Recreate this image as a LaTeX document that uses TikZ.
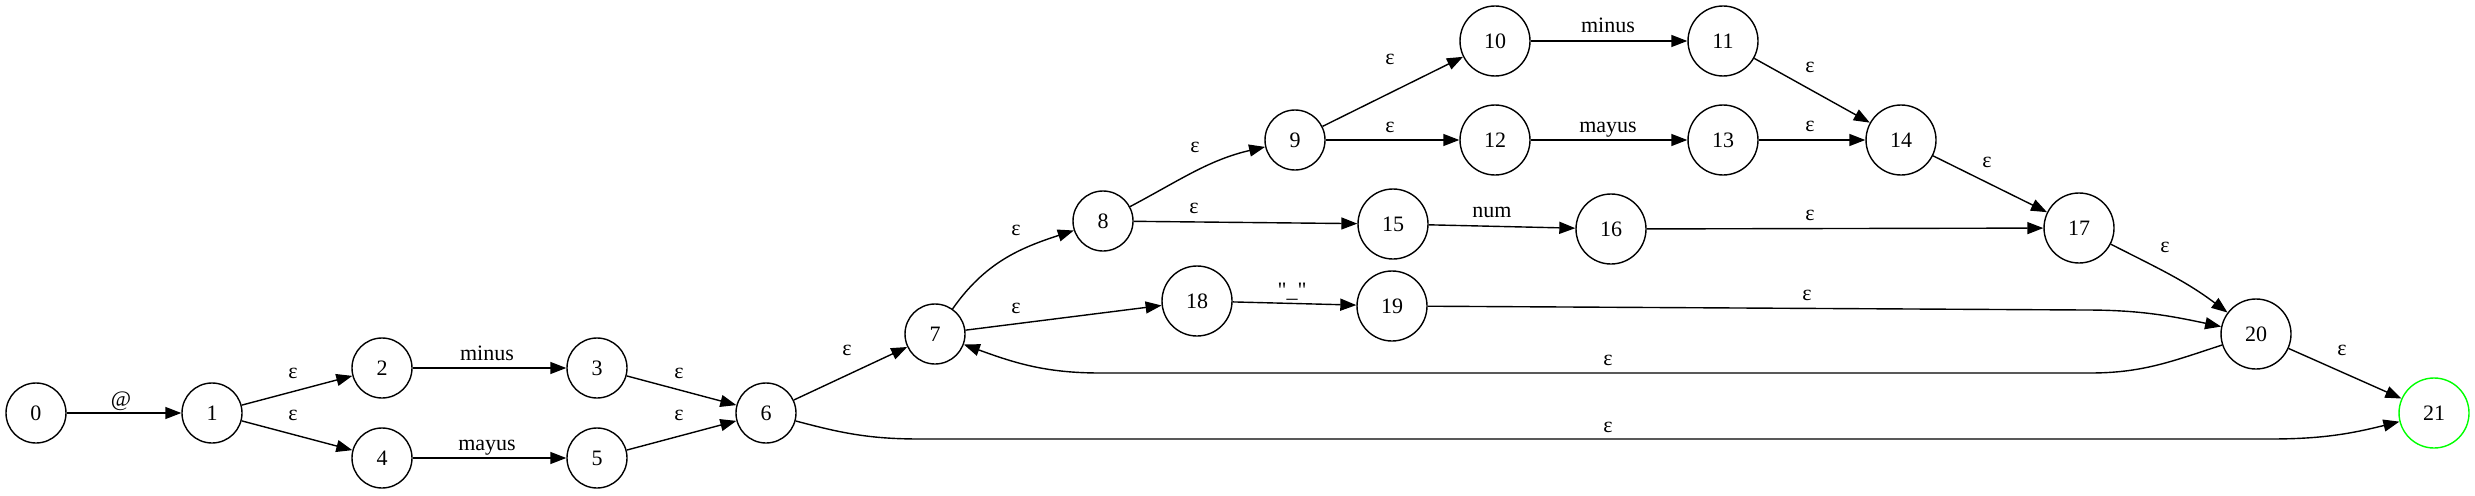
\documentclass[tikz,border=0pt]{standalone}
\usepackage{fontspec}
\setmainfont{Liberation Serif}[Ligatures=TeXOff]
\usetikzlibrary{arrows.meta, positioning}

\begin{document}
\begin{tikzpicture}[x=1pt, y=1pt, font=\fontsize{22}{26}\selectfont,
		st/.style={circle, draw, line width=1.4pt, minimum size=60pt, inner sep=0pt},
		dd/.style={st, minimum size=70pt},
		tr/.style={line width=1.4pt, -{Triangle[length=16pt, width=12pt]}},
		lb/.style={anchor=base, inner sep=0pt}]
	\useasboundingbox (0,0) rectangle (2475,-495);
	% states
	\node[st] (q0) at (36,-413) {0};
	\node[st] (q1) at (212,-413) {1};
	\node[st] (q2) at (382,-368) {2};
	\node[st] (q3) at (597,-368) {3};
	\node[st] (q4) at (382,-458) {4};
	\node[st] (q5) at (597,-458) {5};
	\node[st] (q6) at (766,-413) {6};
	\node[st] (q7) at (935,-334) {7};
	\node[st] (q8) at (1103,-221) {8};
	\node[st] (q9) at (1295,-140) {9};
	\node[dd] (q10) at (1495,-41) {10};
	\node[dd] (q11) at (1723,-41) {11};
	\node[dd] (q12) at (1495,-140) {12};
	\node[dd] (q13) at (1723,-140) {13};
	\node[dd] (q14) at (1901,-140) {14};
	\node[dd] (q15) at (1393,-224) {15};
	\node[dd] (q16) at (1611,-229) {16};
	\node[dd] (q17) at (2079,-228) {17};
	\node[dd] (q18) at (1197,-301) {18};
	\node[dd] (q19) at (1392,-306) {19};
	\node[dd] (q20) at (2256,-334) {20};
	\node[dd, draw=green] (q21) at (2434,-413) {21};
	% transitions
	\draw[tr] (q0) -- (q1);
	\draw[tr] (q1) -- (q2);
	\draw[tr] (q1) -- (q4);
	\draw[tr] (q2) -- (q3);
	\draw[tr] (q4) -- (q5);
	\draw[tr] (q3) -- (q6);
	\draw[tr] (q5) -- (q6);
	\draw[tr] (q6) -- (q7);
	\draw[tr] (q7) to[out=55, in=198] (q8);
	\draw[tr] (q7) -- (q18);
	\draw[tr] (q18) -- (q19);
	\draw[tr] (q8) to[out=28, in=193] (q9);
	\draw[tr] (q8) -- (q15);
	\draw[tr] (q15) -- (q16);
	\draw[tr] (q16) -- (q17);
	\draw[tr] (q9) -- (q10);
	\draw[tr] (q9) -- (q12);
	\draw[tr] (q10) -- (q11);
	\draw[tr] (q12) -- (q13);
	\draw[tr] (q11) -- (q14);
	\draw[tr] (q13) -- (q14);
	\draw[tr] (q14) -- (q17);
	\draw[tr] (q17) to[out=-27, in=143] (q20);
	\draw[tr] (q19) -- (2085,-310) to[out=0, in=168] (q20);
	\draw[tr] (q20) to[out=198, in=0] (2090,-373) -- (1100,-373) to[out=180, in=-20] (q7);
	\draw[tr] (q20) -- (q21);
	\draw[tr] (q6) to[out=-15, in=180] (920,-439) -- (2270,-439) to[out=0, in=194] (q21);
	% labels
	\node[lb] (l1) at (121,-406) {@};
	\node[lb] (l2) at (293,-378) {ε};
	\node[lb] (l3) at (293,-420) {ε};
	\node[lb] (l4) at (487,-360) {minus};
	\node[lb] (l5) at (487,-450) {mayus};
	\node[lb] (l6) at (679,-378) {ε};
	\node[lb] (l7) at (679,-420) {ε};
	\node[lb] (l8) at (847,-355) {ε};
	\node[lb] (l9) at (1016,-235) {ε};
	\node[lb] (l10) at (1016,-313) {ε};
	\node[lb] (l11) at (1194,-213) {ε};
	\node[lb] (l12) at (1292,-297) {"\_"};
	\node[lb] (l13) at (1195,-152) {ε};
	\node[lb] (l14) at (1390,-65) {ε};
	\node[lb] (l15) at (1390,-132) {ε};
	\node[lb] (l16) at (1608,-33) {minus};
	\node[lb] (l17) at (1608,-132) {mayus};
	\node[lb] (l18) at (1810,-73) {ε};
	\node[lb] (l19) at (1810,-131) {ε};
	\node[lb] (l20) at (1492,-217) {num};
	\node[lb] (l21) at (1810,-220) {ε};
	\node[lb] (l22) at (1987,-167) {ε};
	\node[lb] (l23) at (2165,-252) {ε};
	\node[lb] (l24) at (2342,-355) {ε};
	\node[lb] (l25) at (1807,-300) {ε};
	\node[lb] (l26) at (1608,-365) {ε};
	\node[lb] (l27) at (1608,-432) {ε};
\end{tikzpicture}
\end{document}
